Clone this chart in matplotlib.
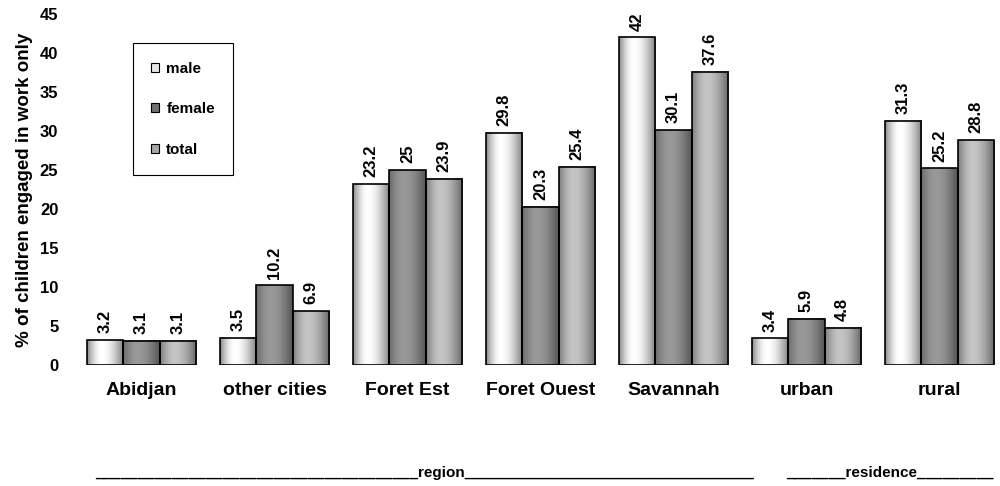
import numpy as np
import matplotlib
matplotlib.use("Agg")
import matplotlib.pyplot as plt
from matplotlib.patches import Patch

# ------------------------------
# Data
# ------------------------------
categories = ["Abidjan", "other cities", "Foret Est", "Foret Ouest", "Savannah", "urban", "rural"]
male = [3.2, 3.5, 23.2, 29.8, 42, 3.4, 31.3]
female = [3.1, 10.2, 25, 20.3, 30.1, 5.9, 25.2]
total = [3.1, 6.9, 23.9, 25.4, 37.6, 4.8, 28.8]
series_names = ["male", "female", "total"]
y_ticks = [0, 5, 10, 15, 20, 25, 30, 35, 40, 45]

# gradient shading (left edge, highlight, right edge) per series
SHADES = {
    "male": (0.55, 1.0, 0.5),
    "female": (0.42, 0.6, 0.33),
    "total": (0.5, 0.77, 0.4),
}
LEGEND_FACE = {"male": "#e8e8e8", "female": "#707070", "total": "#a8a8a8"}

plt.rcParams['font.family'] = ['Liberation Sans', 'DejaVu Sans']
plt.rcParams['font.weight'] = 'bold'


def gradient_row(left, peak, right, n=64, p=0.4):
    t = np.linspace(0, 1, n)
    v = np.where(t < p,
                 left + (peak - left) * np.sin(np.pi / 2 * t / p),
                 right + (peak - right) * np.cos(np.pi / 2 * (t - p) / (1 - p)))
    return np.dstack([v, v, v])


fig = plt.figure(figsize=(10, 4.86), dpi=100)
ax = fig.add_axes([0.075, 0.249, 0.931, 0.722])

x = np.arange(len(categories))
width = 0.272
offsets = [-width, 0, width]

for name, vals, off in zip(series_names, [male, female, total], offsets):
    bars = ax.bar(x + off, vals, width, facecolor="none", edgecolor="black",
                  linewidth=1.2, zorder=3)
    grad = gradient_row(*SHADES[name])
    for b, v in zip(bars, vals):
        x0 = b.get_x()
        ax.imshow(grad, extent=(x0, x0 + b.get_width(), 0, b.get_height()),
                  aspect="auto", zorder=2, interpolation="bilinear")
        ax.annotate(f"{v:g}", (x0 + b.get_width() / 2, v), xytext=(0, 5),
                    textcoords="offset points", rotation=90, ha="center",
                    va="bottom", fontsize=12, fontweight="bold")

ax.set_xlim(-0.5, len(categories) - 0.5)
ax.set_ylim(0, 45)
ax.set_yticks(y_ticks)
ax.set_xticks(x)
ax.set_xticklabels(categories, fontsize=14, fontweight="bold")
ax.tick_params(axis="both", length=0)
ax.tick_params(axis="x", pad=12)
ax.tick_params(axis="y", labelsize=12, pad=12)
for s in ax.spines.values():
    s.set_visible(False)
ax.set_ylabel("% of children engaged in work only", fontsize=13.5, fontweight="bold",
              labelpad=5)

handles = [Patch(facecolor=LEGEND_FACE[n], edgecolor="black", linewidth=0.8, label=n)
           for n in series_names]
leg = ax.legend(handles=handles, loc="upper left", bbox_to_anchor=(0.062, 0.917),
                borderaxespad=0, fontsize=11, labelspacing=1.75, handlelength=0.55,
                handleheight=0.55, handletextpad=0.45, borderpad=1.2,
                fancybox=False, framealpha=1, edgecolor="black")
leg.get_frame().set_linewidth(0.8)

fig.text(0.095, 0.0185, "_" * 38 + "region" + "_" * 34, fontsize=11, fontweight="bold",
         ha="left", va="baseline")
fig.text(0.786, 0.0185, "_" * 7 + "residence" + "_" * 9, fontsize=11, fontweight="bold",
         ha="left", va="baseline")

fig.savefig("out.png", dpi=100)
